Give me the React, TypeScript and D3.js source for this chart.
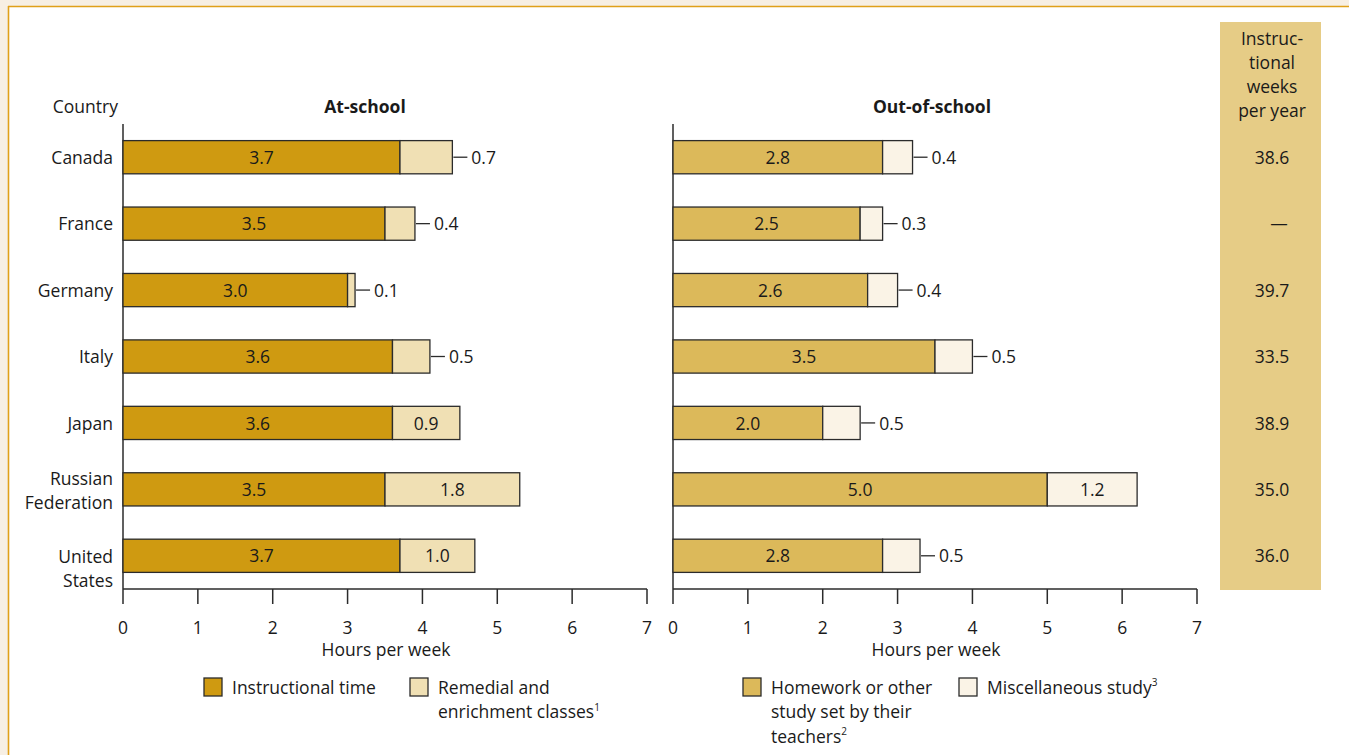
import React from "react";
import * as d3 from "d3";

const countries = [["Canada"], ["France"], ["Germany"], ["Italy"], ["Japan"], ["Russian", "Federation"], ["United", "States"]];
const instructional = [3.7, 3.5, 3.0, 3.6, 3.6, 3.5, 3.7];
const remedial = [0.7, 0.4, 0.1, 0.5, 0.9, 1.8, 1.0];
const homework = [2.8, 2.5, 2.6, 3.5, 2.0, 5.0, 2.8];
const misc = [0.4, 0.3, 0.4, 0.5, 0.5, 1.2, 0.5];
const weeks = ["38.6", "—", "39.7", "33.5", "38.9", "35.0", "36.0"];
const xTicks = [0, 1, 2, 3, 4, 5, 6, 7];
const weeksHeader = ["Instruc-", "tional", "weeks", "per year"];

const W = 1349, H = 755;
const FONT = "'Open Sans', sans-serif";
const FS = 17.5;
const DY = 2;
const C_INST = "#cf9a11";
const C_REM = "#f0e0b4";
const C_HW = "#dcb95a";
const C_MISC = "#faf3e6";
const STROKE = "#2b2b2b";
const TXT = "#1a1a1a";

const y = d3.scaleBand<number>().domain(d3.range(countries.length)).range([124, 589]).paddingInner(0.5).paddingOuter(0.25);
const xL = d3.scaleLinear().domain([0, 7]).range([123, 647]);
const xR = d3.scaleLinear().domain([0, 7]).range([673, 1197]);

function Panel({ x, a, b, ca, cb, title, titleX }: any) {
  const bw = y.bandwidth();
  return (
    <g>
      <text x={titleX} y={106 + DY} fontSize={FS} fontWeight={700} textAnchor="middle" dominantBaseline="middle" fill={TXT}>{title}</text>
      <line x1={x(0)} x2={x(0)} y1={124} y2={589} stroke={STROKE} strokeWidth={1.5} />
      <line x1={x(0)} x2={x(7)} y1={589} y2={589} stroke={STROKE} strokeWidth={1.5} />
      {xTicks.map((t) => (
        <g key={t}>
          <line x1={x(t)} x2={x(t)} y1={589} y2={604} stroke={STROKE} strokeWidth={1.5} />
          <text x={x(t)} y={627 + DY} fontSize={FS} textAnchor="middle" dominantBaseline="middle" fill={TXT}>{t}</text>
        </g>
      ))}
      <text x={(x(0) + x(7)) / 2 + 1} y={649 + DY} fontSize={FS} textAnchor="middle" dominantBaseline="middle" fill={TXT}>Hours per week</text>
      {a.map((v: number, i: number) => {
        const y0 = y(i)!;
        const cy = y0 + bw / 2;
        const e = x(v + b[i]);
        const inside = x(v + b[i]) - x(v) > 60;
        return (
          <g key={i}>
            <rect x={x(0)} y={y0} width={x(v) - x(0)} height={bw} fill={ca} stroke={STROKE} strokeWidth={1.3} />
            <rect x={x(v)} y={y0} width={x(v + b[i]) - x(v)} height={bw} fill={cb} stroke={STROKE} strokeWidth={1.3} />
            <text x={(x(0) + x(v)) / 2} y={cy + DY} fontSize={FS} textAnchor="middle" dominantBaseline="middle" fill={TXT}>{v.toFixed(1)}</text>
            {inside ? (
              <text x={(x(v) + e) / 2} y={cy + DY} fontSize={FS} textAnchor="middle" dominantBaseline="middle" fill={TXT}>{b[i].toFixed(1)}</text>
            ) : (
              <g>
                <line x1={e + 1} x2={e + 15} y1={cy} y2={cy} stroke={STROKE} strokeWidth={1.3} />
                <text x={e + 19} y={cy + DY} fontSize={FS} dominantBaseline="middle" fill={TXT}>{b[i].toFixed(1)}</text>
              </g>
            )}
          </g>
        );
      })}
    </g>
  );
}

function LegendItem({ x, yy, color, lines, sup }: any) {
  return (
    <g>
      <rect x={x} y={yy - 9} width={18} height={18} fill={color} stroke={STROKE} strokeWidth={1.3} />
      {lines.map((l: string, k: number) => (
        <text key={k} x={x + 28} y={yy + DY + k * 24.5} fontSize={FS} dominantBaseline="middle" fill={TXT}>
          {l}
          {k === lines.length - 1 && sup ? <tspan fontSize={10} dy={-6}>{sup}</tspan> : null}
        </text>
      ))}
    </g>
  );
}

export default function App() {
  const bw = y.bandwidth();
  return (
    <svg width={W} height={H} style={{ position: "absolute", left: 0, top: 0, fontFamily: FONT }}>
      <rect x={0} y={0} width={W} height={H} fill="#f7efe3" />
      <rect x={9} y={7} width={W} height={H} fill="#ffffff" />
      <line x1={8.5} x2={8.5} y1={6} y2={H} stroke="#e0a018" strokeWidth={1.6} />
      <line x1={8} x2={W} y1={6.5} y2={6.5} stroke="#e0a018" strokeWidth={1.6} />

      <text x={118} y={106 + DY} fontSize={FS} textAnchor="end" dominantBaseline="middle" fill={TXT}>Country</text>
      {countries.map((lines, i) => {
        const cy = y(i)! + bw / 2;
        const start = lines.length === 1 ? cy : (i === countries.length - 1 ? cy + 1 : cy - 11);
        return lines.map((l, k) => (
          <text key={i + "-" + k} x={113} y={start + DY + k * 24} fontSize={FS} textAnchor="end" dominantBaseline="middle" fill={TXT}>{l}</text>
        ));
      })}

      <Panel x={xL} a={instructional} b={remedial} ca={C_INST} cb={C_REM} title="At-school" titleX={365} />
      <Panel x={xR} a={homework} b={misc} ca={C_HW} cb={C_MISC} title="Out-of-school" titleX={932} />

      <rect x={1220} y={22} width={101} height={568} fill="#e6cc86" />
      {weeksHeader.map((l, k) => (
        <text key={k} x={1272} y={38 + DY + k * 24} fontSize={FS} textAnchor="middle" dominantBaseline="middle" fill={TXT}>{l}</text>
      ))}
      {weeks.map((w, i) => (
        <text key={i} x={w === "—" ? 1279 : 1272} y={y(i)! + bw / 2 + DY} fontSize={FS} textAnchor="middle" dominantBaseline="middle" fill={TXT}>{w}</text>
      ))}

      <LegendItem x={204} yy={687} color={C_INST} lines={["Instructional time"]} />
      <LegendItem x={410} yy={687} color={C_REM} lines={["Remedial and", "enrichment classes"]} sup="1" />
      <LegendItem x={743} yy={687} color={C_HW} lines={["Homework or other", "study set by their", "teachers"]} sup="2" />
      <LegendItem x={959} yy={687} color={C_MISC} lines={["Miscellaneous study"]} sup="3" />
    </svg>
  );
}
